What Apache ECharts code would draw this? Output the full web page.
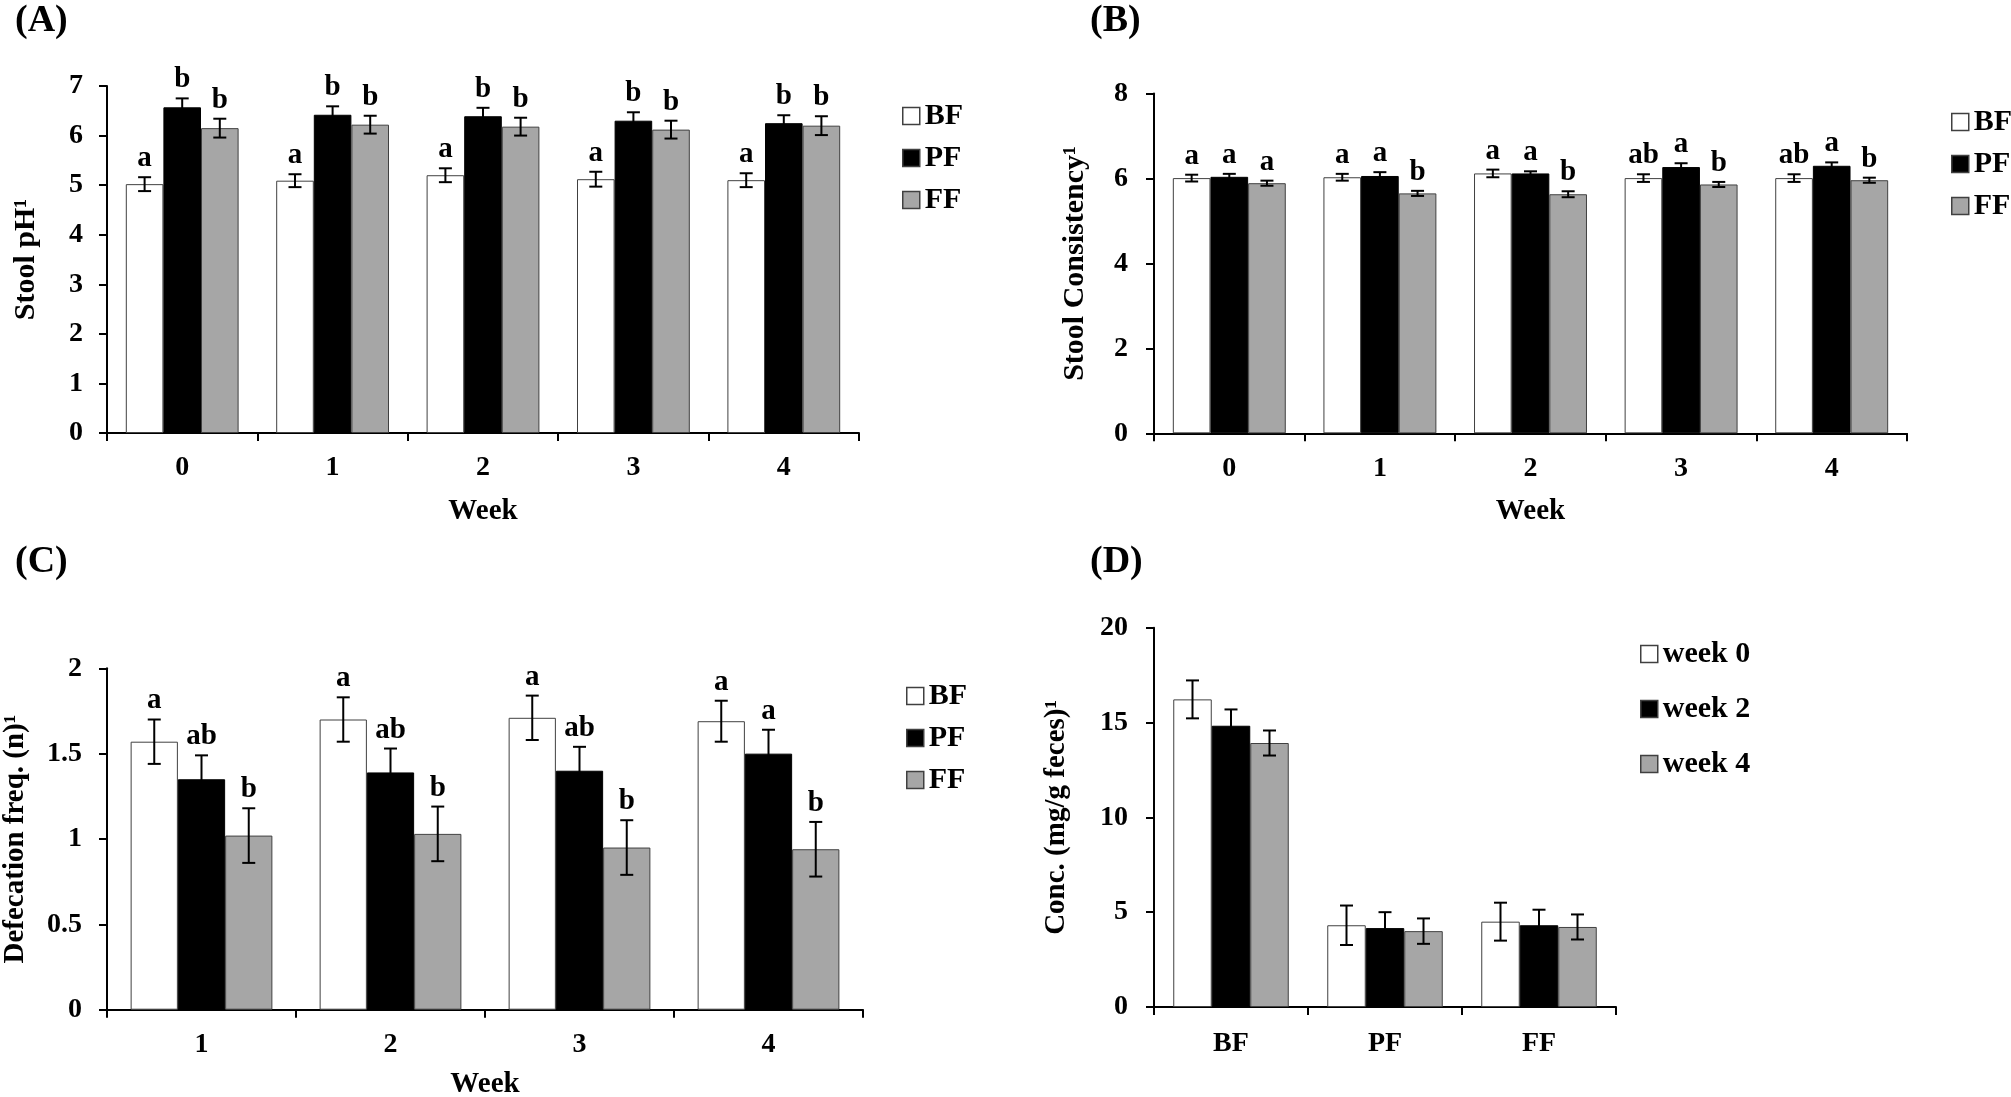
<!DOCTYPE html>
<html>
<head>
<meta charset="utf-8">
<script src="https://cdn.jsdelivr.net/npm/echarts@6/dist/echarts.min.js"></script>
<style>
html,body{margin:0;padding:0;background:#fff;}
#chart{width:2011px;height:1097px;}
</style>
</head>
<body>
<div id="chart"></div>
<script>
// ---------- DATA ----------
const weeksAB = ['0', '1', '2', '3', '4'];
const weeksC = ['1', '2', '3', '4'];
const groupsD = ['BF', 'PF', 'FF'];
const formulaNames = ['BF', 'PF', 'FF'];
const weekNames = ['week 0', 'week 2', 'week 4'];

// (A) Stool pH
const phBF = [5.02, 5.09, 5.20, 5.12, 5.10];
const phPF = [6.57, 6.42, 6.39, 6.30, 6.25];
const phFF = [6.15, 6.22, 6.18, 6.12, 6.20];
const phBFerr = [0.14, 0.13, 0.14, 0.15, 0.14];
const phPFerr = [0.18, 0.17, 0.17, 0.17, 0.16];
const phFFerr = [0.19, 0.18, 0.18, 0.18, 0.19];
const phBFlet = ['a', 'a', 'a', 'a', 'a'];
const phPFlet = ['b', 'b', 'b', 'b', 'b'];
const phFFlet = ['b', 'b', 'b', 'b', 'b'];
const phTicks = [0, 1, 2, 3, 4, 5, 6, 7];

// (B) Stool consistency
const consBF = [6.01, 6.03, 6.12, 6.01, 6.01];
const consPF = [6.04, 6.06, 6.12, 6.27, 6.30];
const consFF = [5.89, 5.65, 5.63, 5.86, 5.96];
const consBFerr = [0.08, 0.08, 0.09, 0.09, 0.09];
const consPFerr = [0.07, 0.09, 0.05, 0.09, 0.08];
const consFFerr = [0.06, 0.06, 0.07, 0.06, 0.06];
const consBFlet = ['a', 'a', 'a', 'ab', 'ab'];
const consPFlet = ['a', 'a', 'a', 'a', 'a'];
const consFFlet = ['a', 'b', 'b', 'b', 'b'];
const consTicks = [0, 2, 4, 6, 8];

// (C) Defecation frequency
const defBF = [1.57, 1.70, 1.71, 1.69];
const defPF = [1.35, 1.39, 1.40, 1.50];
const defFF = [1.02, 1.03, 0.95, 0.94];
const defBFerr = [0.13, 0.13, 0.13, 0.12];
const defPFerr = [0.14, 0.14, 0.14, 0.14];
const defFFerr = [0.16, 0.16, 0.16, 0.16];
const defBFlet = ['a', 'a', 'a', 'a'];
const defPFlet = ['ab', 'ab', 'ab', 'a'];
const defFFlet = ['b', 'b', 'b', 'b'];
const defTicks = [0, 0.5, 1, 1.5, 2];

// (D) Concentration
const concW0 = [16.22, 4.31, 4.50];
const concW2 = [14.83, 4.16, 4.31];
const concW4 = [13.92, 4.00, 4.22];
const concW0err = [1.00, 1.04, 1.00];
const concW2err = [0.86, 0.84, 0.82];
const concW4err = [0.66, 0.67, 0.66];
const concTicks = [0, 5, 10, 15, 20];

// ---------- STYLE ----------
const FONT = "'Liberation Serif','Times New Roman',serif";
const FILLS = ['#ffffff', '#000000', '#a6a6a6'];
const BORDER = '#404040';

const panels = [
  { cats: weeksAB, names: formulaNames, vals: [phBF, phPF, phFF], errs: [phBFerr, phPFerr, phFFerr],
    lets: [phBFlet, phPFlet, phFFlet], ticks: phTicks, yName: 'Stool pH¹', xName: 'Week', yFont: 30,
    grid: { left: 107, right: 1152, top: 86, bottom: 664 }, yGap: 66, xGap: 64, xMargin: 21, yMargin: 24,
    legend: { left: 897, top: 96, itemGap: 12 } },
  { cats: weeksAB, names: formulaNames, vals: [consBF, consPF, consFF], errs: [consBFerr, consPFerr, consFFerr],
    lets: [consBFlet, consPFlet, consFFlet], ticks: consTicks, yName: 'Stool Consistency¹', xName: 'Week', yFont: 30,
    grid: { left: 1154, right: 104, top: 93.6, bottom: 663.7 }, yGap: 64, xGap: 64, xMargin: 21, yMargin: 26,
    legend: { left: 1946, top: 102, itemGap: 12 } },
  { cats: weeksC, names: formulaNames, vals: [defBF, defPF, defFF], errs: [defBFerr, defPFerr, defFFerr],
    lets: [defBFlet, defPFlet, defFFlet], ticks: defTicks, yName: 'Defecation freq. (n)¹', xName: 'Week', yFont: 29,
    grid: { left: 107, right: 1148, top: 668.3, bottom: 87.3 }, yGap: 77, xGap: 60, xMargin: 21, yMargin: 25,
    legend: { left: 901, top: 676, itemGap: 12 } },
  { cats: groupsD, names: weekNames, vals: [concW0, concW2, concW4], errs: [concW0err, concW2err, concW4err],
    lets: null, ticks: concTicks, yName: 'Conc. (mg/g feces)¹', xName: '', yFont: 29,
    grid: { left: 1154, right: 395, top: 627.7, bottom: 90 }, yGap: 83, xGap: 60, xMargin: 23, yMargin: 26,
    legend: { left: 1635, top: 634, itemGap: 25 } }
];

const grids = [], xAxes = [], yAxes = [], series = [], legends = [];

panels.forEach((p, pi) => {
  grids.push(Object.assign({ containLabel: false, outerBoundsMode: 'none' }, p.grid));
  xAxes.push({
    type: 'category', gridIndex: pi, data: p.cats,
    name: p.xName, nameLocation: 'middle', nameGap: p.xGap,
    nameTextStyle: { fontFamily: FONT, fontWeight: 'bold', fontSize: 29, color: '#000' },
    axisLine: { show: true, lineStyle: { color: '#000', width: 2 } },
    axisTick: { show: true, length: 8, inside: false, lineStyle: { color: '#000', width: 2 } },
    axisLabel: { fontFamily: FONT, fontWeight: 'bold', fontSize: 28, color: '#000', margin: p.xMargin },
    splitLine: { show: false }
  });
  const tmin = p.ticks[0], tmax = p.ticks[p.ticks.length - 1];
  yAxes.push({
    type: 'value', gridIndex: pi, min: tmin, max: tmax, interval: p.ticks[1] - p.ticks[0],
    name: p.yName, nameLocation: 'middle', nameGap: p.yGap, nameRotate: 90, nameMoveOverlap: false,
    nameTextStyle: { fontFamily: FONT, fontWeight: 'bold', fontSize: p.yFont, color: '#000' },
    axisLine: { show: true, lineStyle: { color: '#000', width: 2 } },
    axisTick: { show: true, length: 8, inside: false, lineStyle: { color: '#000', width: 2 } },
    axisLabel: { fontFamily: FONT, fontWeight: 'bold', fontSize: 28, color: '#000', margin: p.yMargin },
    splitLine: { show: false }
  });
  p.names.forEach((nm, si) => {
    series.push({
      type: 'bar', name: nm, xAxisIndex: pi, yAxisIndex: pi, data: p.vals[si],
      barGap: '0%', barCategoryGap: '25%', animation: false,
      itemStyle: { color: FILLS[si], borderColor: si === 1 ? '#000' : BORDER, borderWidth: 1 },
      emphasis: { disabled: true }
    });
    const errs = p.errs[si];
    const lets = p.lets ? p.lets[si] : null;
    series.push({
      type: 'custom', name: 'err' + pi + '_' + si, xAxisIndex: pi, yAxisIndex: pi,
      animation: false, silent: true, z: 10,
      data: p.vals[si].map((v, k) => [k, v, errs[k]]),
      encode: { x: 0, y: 1 },
      renderItem: function (params, api) {
        const k = api.value(0), v = api.value(1), e = api.value(2);
        const base = api.coord([k, v]);
        const band = api.size([1, 0])[0];
        const bw = band * 0.75 / 3;
        const x = base[0] + (si - 1) * bw;
        const yT = api.coord([k, v + e])[1];
        const yB = api.coord([k, v - e])[1];
        const cap = 6.5;
        const st = { stroke: '#000', lineWidth: 2 };
        const children = [
          { type: 'line', shape: { x1: x, y1: yT, x2: x, y2: yB }, style: st },
          { type: 'line', shape: { x1: x - cap, y1: yT, x2: x + cap, y2: yT }, style: st },
          { type: 'line', shape: { x1: x - cap, y1: yB, x2: x + cap, y2: yB }, style: st }
        ];
        if (lets) {
          children.push({
            type: 'text', x: x, y: yT - 4,
            style: { text: lets[params.dataIndex], fill: '#000', font: 'bold 29px ' + FONT,
                     align: 'center', verticalAlign: 'bottom' }
          });
        }
        return { type: 'group', children: children };
      }
    });
  });
  legends.push({
    data: p.names, orient: 'vertical', left: p.legend.left, top: p.legend.top,
    itemGap: p.legend.itemGap, icon: 'rect', itemWidth: 17, itemHeight: 17,
    selectedMode: false,
    textStyle: { fontFamily: FONT, fontWeight: 'bold', fontSize: 30, color: '#000' },
    itemStyle: { borderColor: BORDER, borderWidth: 1.5 }
  });
});

const labelStyle = { font: 'bold 38px ' + FONT, fill: '#000', verticalAlign: 'middle' };
const option = {
  backgroundColor: '#fff',
  animation: false,
  textStyle: { fontFamily: FONT },
  grid: grids, xAxis: xAxes, yAxis: yAxes, series: series, legend: legends,
  graphic: [
    { type: 'text', left: 15, top: 2, style: Object.assign({ text: '(A)' }, labelStyle) },
    { type: 'text', left: 1090, top: 2, style: Object.assign({ text: '(B)' }, labelStyle) },
    { type: 'text', left: 15, top: 543, style: Object.assign({ text: '(C)' }, labelStyle) },
    { type: 'text', left: 1090, top: 543, style: Object.assign({ text: '(D)' }, labelStyle) }
  ]
};

const chart = echarts.init(document.getElementById('chart'), null, { renderer: 'canvas' });
chart.setOption(option);
</script>
</body>
</html>
